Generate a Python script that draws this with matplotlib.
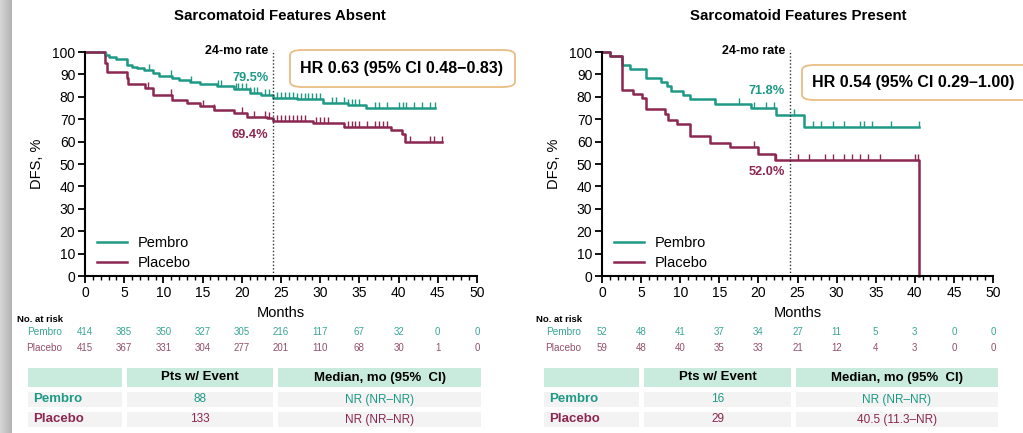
import numpy as np
import matplotlib
matplotlib.use("Agg")
import matplotlib.pyplot as plt
from matplotlib.patches import Rectangle, FancyBboxPatch

plt.rcParams['font.family'] = ['Liberation Sans', 'DejaVu Sans']

TEAL = "#1e9985"
MAROON = "#8b2750"
TEAL_L = "#3aa596"
MAROON_L = "#93506c"

W, H = 1023, 433

# ---- data ----
titles = ["Sarcomatoid Features Absent", "Sarcomatoid Features Present"]
hr_text = ["HR 0.63 (95% CI 0.48\u22120.83)", "HR 0.54 (95% CI 0.29\u20131.00)"]

abs_pem_t = [0, 2.5, 3.0, 4.0, 5.3, 6.0, 6.6, 7.5, 8.7, 9.5, 11.1, 12.0, 13.4, 14.7, 16.8,
             19.0, 21.0, 22.5, 24.0, 27.0, 30.4, 33.5, 35.9, 36.5, 44.7]
abs_pem_s = [100, 98.5, 97.6, 96.8, 94.2, 93.5, 92.7, 91.8, 90.5, 89.5, 88.2, 87.6, 86.8, 85.5, 84.8,
             83.3, 81.8, 81.0, 79.5, 79.0, 77.1, 76.5, 75.1, 75.0, 75.0]
abs_pla_t = [0, 2.6, 2.8, 5.3, 5.5, 7.6, 8.7, 11.1, 13.0, 14.7, 16.4, 19.0, 20.6, 23.2, 24.0,
             25.7, 29.1, 33.0, 39.0, 40.4, 40.8, 45.5]
abs_pla_s = [100, 95, 91.2, 88.2, 85.7, 83.8, 80.8, 78.6, 77.1, 75.9, 74.1, 72.6, 71.1, 70.4, 69.4,
             69.0, 68.2, 66.7, 65.2, 63.5, 60.0, 60.0]
pre_pem_t = [0, 1.0, 2.6, 3.6, 5.6, 7.6, 8.3, 8.8, 10.4, 11.2, 14.5, 19.1, 22.3, 25.8, 40.6]
pre_pem_s = [100, 98.1, 94.2, 92.3, 88.5, 86.5, 84.6, 82.7, 80.8, 78.8, 76.9, 74.9, 71.8, 66.6, 66.6]
pre_pla_t = [0, 1.0, 2.6, 4.0, 5.1, 5.6, 8.1, 8.5, 9.6, 11.2, 13.8, 16.4, 19.9, 22.1, 40.6, 40.6]
pre_pla_s = [100, 98.3, 83.0, 81.3, 79.3, 74.6, 72.3, 69.6, 67.9, 62.7, 59.3, 57.6, 54.3, 52.0, 52.0, 0]

abs_pem_cens = [2.0, 2.7, 5.3, 8.2, 11.0, 13.5, 17.0, 17.3, 19.2, 19.5, 20.0, 20.5, 21.0, 21.5, 22.0,
                23.0, 23.5, 24.5, 25, 25.5, 26, 26.5, 27, 27.5, 28, 28.5, 29, 29.5, 30, 31.5, 32,
                33, 33.5, 34, 34.5, 35, 37, 37.5, 38.5, 40, 40.5, 41, 42, 43, 44, 44.7]
abs_pla_cens = [8, 11, 15, 16.5, 20, 21.5, 23, 23.5, 24.5, 25, 25.5, 26, 26.5, 27, 27.5, 28, 29.5,
                30, 30.5, 31, 33.5, 34, 34.5, 35, 36, 37, 37.5, 38, 38.5, 41.5, 44, 44.5, 45.5]
pre_pem_cens = [14.5, 17.5, 19.5, 21, 22, 24.5, 27, 28, 29.5, 31, 33, 33.5, 34.5, 37, 40.5]
pre_pla_cens = [19.5, 22.2, 25, 26.5, 28.5, 29.5, 31, 32, 33, 34, 35.5, 40, 40.4]

rate_pem = ["79.5%", "71.8%"]
rate_pla = ["69.4%", "52.0%"]

risk_months = list(range(0, 51, 5))
abs_risk_pem = [414, 385, 350, 327, 305, 216, 117, 67, 32, 0, 0]
abs_risk_pla = [415, 367, 331, 304, 277, 201, 110, 68, 30, 1, 0]
pre_risk_pem = [52, 48, 41, 37, 34, 27, 11, 5, 3, 0, 0]
pre_risk_pla = [59, 48, 40, 35, 33, 21, 12, 4, 3, 0, 0]

tbl_header = ["", "Pts w/ Event", "Median, mo (95%  CI)"]
abs_events = ["88", "133"]
abs_median = ["NR (NR\u2013NR)", "NR (NR\u2013NR)"]
pre_events = ["16", "29"]
pre_median = ["NR (NR\u2013NR)", "40.5 (11.3\u2013NR)"]


def fx(px):
    return px / W


def fy(py):
    return 1 - py / H


fig = plt.figure(figsize=(W / 100, H / 100), dpi=100)

# left slide shadow
sh = fig.add_axes([0, 0, 12 / W, 1])
grad = np.linspace(0.84, 0.70, 50)[None, :]
sh.imshow(grad, cmap="gray", vmin=0, vmax=1, aspect="auto", extent=[0, 1, 0, 1])
sh.axis("off")

panels = [
    dict(x0=85, x1=477, title_x=280, curves=(abs_pem_t, abs_pem_s, abs_pla_t, abs_pla_s),
         cens=(abs_pem_cens, abs_pla_cens), risk=(abs_risk_pem, abs_risk_pla),
         hr_box=(290, 50, 515, 87), hr_x=402, lab_y=(88.4, 63.0), risk_lab_x=62,
         cols=[(28, 122), (127, 273), (278, 481)], events=abs_events, median=abs_median),
    dict(x0=602, x1=993, title_x=798, curves=(pre_pem_t, pre_pem_s, pre_pla_t, pre_pla_s),
         cens=(pre_pem_cens, pre_pla_cens), risk=(pre_risk_pem, pre_risk_pla),
         hr_box=(802, 65, 1040, 100), hr_x=913, lab_y=(82.7, 46.5), risk_lab_x=581,
         cols=[(544, 639), (644, 791), (796, 998)], events=pre_events, median=pre_median),
]

y_top, y_bot = 52, 276

for i, p in enumerate(panels):
    ax = fig.add_axes([fx(p["x0"]), fy(y_bot), fx(p["x1"] - p["x0"]), (y_bot - y_top) / H])
    pt, ps, lt, ls = p["curves"]
    ax.step(pt, ps, where="post", color=TEAL, lw=1.8, label="Pembro", clip_on=False)
    ax.step(lt, ls, where="post", color=MAROON, lw=1.8, label="Placebo", clip_on=False)
    # censor ticks (upward)
    for ct, (tt, ss, col) in zip(p["cens"], [(pt, ps, TEAL), (lt, ls, MAROON)]):
        ct = np.array(ct)
        idx = np.searchsorted(np.array(tt), ct, side="right") - 1
        ax.plot(ct, np.array(ss)[idx], ls="none", marker=2, ms=4, mew=1.0, color=col)
    ax.set_xlim(0, 50)
    ax.set_ylim(0, 100)
    ax.set_xticks(range(0, 51, 5))
    ax.set_xticks(range(0, 51, 1), minor=True)
    ax.set_yticks(range(0, 101, 10))
    ax.tick_params(axis="both", which="major", direction="out", length=5, width=1.3,
                   labelsize=10, pad=2)
    ax.tick_params(axis="x", which="minor", direction="out", length=3, width=1.0)
    for s in ("top", "right"):
        ax.spines[s].set_visible(False)
    for s in ("left", "bottom"):
        ax.spines[s].set_linewidth(1.5)
    ax.set_ylabel("DFS, %", fontsize=10.5, labelpad=6)
    ax.axvline(24, ymin=0, ymax=1.01, color="#333333", lw=1.0, ls=(0, (1, 1.5)), clip_on=False)
    ax.text(23.4, 100.5, "24-mo rate", ha="right", va="center", fontsize=9, fontweight="bold")
    ax.text(23.4, p["lab_y"][0], rate_pem[i], ha="right", va="center", fontsize=9.2,
            fontweight="bold", color=TEAL)
    ax.text(23.4, p["lab_y"][1], rate_pla[i], ha="right", va="center", fontsize=9.2,
            fontweight="bold", color=MAROON)
    ax.legend(loc="lower left", bbox_to_anchor=(0.015, 0.0), frameon=False, fontsize=10.5,
              handlelength=2.1, handletextpad=0.7, labelspacing=0.45, borderaxespad=0.0)
    # Months label
    ax.text(25, -0.165, "Months", transform=ax.get_xaxis_transform(), ha="center", va="center",
            fontsize=10.5)
    # at-risk rows
    for row, col, yy in [(p["risk"][0], TEAL_L, 332), (p["risk"][1], MAROON_L, 348)]:
        yax = (y_bot - yy) / (y_bot - y_top)
        for m, v in zip(risk_months, row):
            ax.text(m, yax, str(v), transform=ax.get_xaxis_transform(), ha="center",
                    va="center", fontsize=7, color=col, clip_on=False)
    fig.text(fx(p["risk_lab_x"] + 1), fy(319), "No. at risk", ha="right", va="center",
             fontsize=6.8, fontweight="bold")
    fig.text(fx(p["risk_lab_x"]), fy(332), "Pembro", ha="right", va="center", fontsize=7.2,
             color=TEAL_L)
    fig.text(fx(p["risk_lab_x"]), fy(348), "Placebo", ha="right", va="center", fontsize=7.2,
             color=MAROON_L)

    # title
    fig.text(fx(p["title_x"]), fy(16), titles[i], ha="center", va="center", fontsize=10.8,
             fontweight="bold")

    # HR box
    bx0, by0, bx1, by1 = p["hr_box"]
    box = FancyBboxPatch((fx(bx0), fy(by1)), fx(bx1 - bx0), (by1 - by0) / H,
                         boxstyle="round,pad=0,rounding_size=0.012", transform=fig.transFigure,
                         facecolor="white", edgecolor="#e9bd86", lw=1.3)
    fig.add_artist(box)
    fig.text(fx(p["hr_x"]), fy((by0 + by1) / 2), hr_text[i], ha="center",
             va="center", fontsize=11.5, fontweight="bold")

    # summary table
    rows_y = [(368, 387), (392, 407), (412, 427)]
    for r, (ya, yb) in enumerate(rows_y):
        fc = "#c8ebde" if r == 0 else "#f3f3f3"
        for (xa, xb) in p["cols"]:
            fig.add_artist(Rectangle((fx(xa), fy(yb)), fx(xb - xa), (yb - ya) / H,
                                     transform=fig.transFigure, facecolor=fc, edgecolor="none"))
    hy = fy(377.5)
    for (xa, xb), txt in zip(p["cols"][1:], tbl_header[1:]):
        fig.text(fx((xa + xb) / 2), hy, txt, ha="center", va="center", fontsize=9.5,
                 fontweight="bold")
    for r, (name, col) in enumerate([("Pembro", TEAL), ("Placebo", MAROON)]):
        yc = fy((rows_y[r + 1][0] + rows_y[r + 1][1]) / 2)
        fig.text(fx(p["cols"][0][0] + 5), yc, name, ha="left", va="center", fontsize=9.5,
                 fontweight="bold", color=col)
        c1, c2 = p["cols"][1], p["cols"][2]
        fig.text(fx((c1[0] + c1[1]) / 2), yc, p["events"][r], ha="center", va="center",
                 fontsize=8.5, color=col)
        fig.text(fx((c2[0] + c2[1]) / 2), yc, p["median"][r], ha="center", va="center",
                 fontsize=8.5, color=col)

fig.savefig("out.png", dpi=100)
